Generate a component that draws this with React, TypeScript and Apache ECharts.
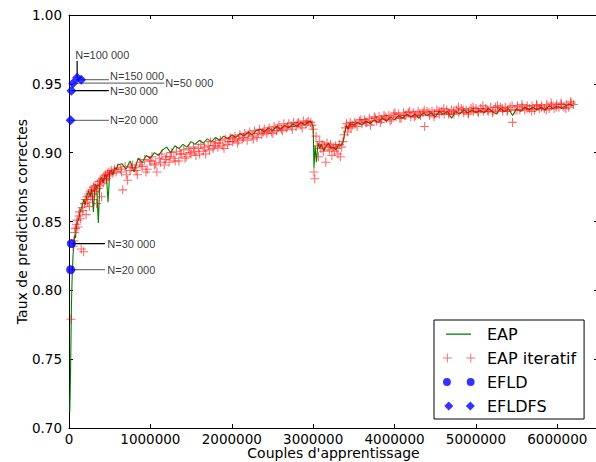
import React, { useEffect, useRef } from "react";
import * as echarts from "echarts";

// ---------- data (x in thousands of training couples, y = rate of correct predictions) ----------
const EAP: number[][] = [
  [10, 0.712], [20, 0.745], [30, 0.79], [40, 0.812], [50, 0.826], [60, 0.832], [70, 0.84], [80, 0.838],
  [90, 0.846], [100, 0.849], [120, 0.852], [140, 0.858], [160, 0.861], [180, 0.866], [200, 0.862],
  [220, 0.869], [240, 0.872], [260, 0.868], [280, 0.874], [300, 0.857], [320, 0.877], [340, 0.876],
  [360, 0.849], [380, 0.88], [400, 0.882], [420, 0.878], [440, 0.884], [460, 0.883], [480, 0.864],
  [500, 0.886], [520, 0.887], [540, 0.884], [560, 0.889], [580, 0.888], [600, 0.891],
  [650, 0.892], [700, 0.888], [750, 0.894], [800, 0.886], [850, 0.896], [900, 0.893], [950, 0.898],
  [1000, 0.896], [1050, 0.9], [1100, 0.898], [1150, 0.902], [1200, 0.904], [1250, 0.9], [1300, 0.905],
  [1350, 0.903], [1400, 0.906], [1450, 0.904], [1500, 0.908], [1550, 0.906], [1600, 0.909], [1650, 0.907],
  [1700, 0.91], [1750, 0.908], [1800, 0.911], [1850, 0.909], [1900, 0.912], [1950, 0.91], [2000, 0.913],
  [2050, 0.911], [2100, 0.914], [2150, 0.912], [2200, 0.915], [2250, 0.913], [2300, 0.916], [2350, 0.917],
  [2400, 0.915], [2450, 0.918], [2500, 0.916], [2550, 0.919], [2600, 0.917], [2650, 0.92], [2700, 0.918],
  [2750, 0.921], [2800, 0.919], [2850, 0.922], [2900, 0.92], [2950, 0.923], [2980, 0.922],
  [3000, 0.919], [3010, 0.889], [3025, 0.905], [3040, 0.893], [3060, 0.907], [3080, 0.903], [3100, 0.906],
  [3130, 0.901], [3160, 0.905], [3190, 0.907], [3220, 0.903], [3250, 0.904], [3280, 0.902], [3310, 0.906],
  [3340, 0.905], [3370, 0.908], [3390, 0.915], [3410, 0.92], [3430, 0.917], [3450, 0.921],
  [3500, 0.92], [3550, 0.922], [3600, 0.92], [3650, 0.923], [3700, 0.921], [3750, 0.924], [3800, 0.922],
  [3850, 0.925], [3900, 0.923], [3950, 0.926], [4000, 0.924], [4050, 0.927], [4100, 0.925], [4150, 0.928],
  [4200, 0.926], [4250, 0.928], [4300, 0.925], [4350, 0.929], [4400, 0.927], [4450, 0.929], [4500, 0.926],
  [4550, 0.93], [4600, 0.928], [4650, 0.93], [4700, 0.925], [4750, 0.93], [4800, 0.928], [4850, 0.931],
  [4900, 0.929], [4950, 0.931], [5000, 0.929], [5050, 0.931], [5100, 0.929], [5150, 0.932], [5200, 0.93],
  [5250, 0.928], [5300, 0.932], [5350, 0.93], [5400, 0.932], [5450, 0.927], [5500, 0.932], [5550, 0.93],
  [5600, 0.933], [5650, 0.931], [5700, 0.933], [5750, 0.931], [5800, 0.933], [5850, 0.931], [5900, 0.934],
  [5950, 0.932], [6000, 0.934], [6050, 0.932], [6100, 0.934], [6150, 0.935], [6200, 0.934],
];

const EAP_ITERATIF: number[][] = [
  [25, 0.779], [40, 0.815], [50, 0.832], [60, 0.836], [70, 0.842], [80, 0.845], [90, 0.848], [100, 0.851],
  [110, 0.846], [120, 0.854], [130, 0.857], [140, 0.852], [150, 0.83], [160, 0.86], [170, 0.858], [180, 0.828],
  [190, 0.863], [200, 0.866], [210, 0.855], [220, 0.868], [230, 0.864], [240, 0.87], [250, 0.861], [260, 0.872],
  [270, 0.868], [280, 0.873], [290, 0.866], [300, 0.875], [310, 0.87], [320, 0.876], [330, 0.872], [340, 0.863],
  [350, 0.877], [360, 0.874], [370, 0.879], [380, 0.876], [390, 0.88], [400, 0.868], [410, 0.881], [420, 0.878],
  [430, 0.883], [440, 0.88], [450, 0.884], [460, 0.881], [470, 0.885], [480, 0.883], [490, 0.886], [500, 0.884],
  [520, 0.887], [540, 0.885], [560, 0.888], [580, 0.886], [600, 0.889],
  [630, 0.888], [660, 0.873], [690, 0.89], [720, 0.88], [750, 0.887], [780, 0.891], [810, 0.889], [840, 0.884],
  [870, 0.893], [900, 0.89], [930, 0.895], [960, 0.888], [990, 0.894], [1020, 0.897], [1050, 0.891],
  [1080, 0.886], [1110, 0.896], [1140, 0.899], [1170, 0.891], [1200, 0.897], [1230, 0.893], [1260, 0.9],
  [1290, 0.896], [1320, 0.901], [1350, 0.894], [1380, 0.899], [1410, 0.902], [1440, 0.897], [1470, 0.903],
  [1500, 0.899], [1530, 0.904], [1560, 0.898], [1590, 0.903], [1620, 0.906], [1650, 0.901], [1680, 0.899],
  [1710, 0.905], [1740, 0.908], [1770, 0.903], [1800, 0.907], [1830, 0.904], [1860, 0.909], [1890, 0.905],
  [1920, 0.91], [1950, 0.906], [1980, 0.911], [2010, 0.908], [2040, 0.912], [2070, 0.907], [2100, 0.913],
  [2130, 0.91], [2160, 0.914], [2190, 0.909], [2220, 0.915], [2250, 0.912], [2280, 0.916], [2310, 0.911],
  [2340, 0.917], [2370, 0.913], [2400, 0.917], [2430, 0.914], [2460, 0.918], [2490, 0.915], [2520, 0.919],
  [2550, 0.916], [2580, 0.92], [2610, 0.917], [2640, 0.921], [2670, 0.918], [2700, 0.921], [2730, 0.919],
  [2760, 0.922], [2790, 0.919], [2820, 0.922], [2850, 0.92], [2880, 0.923], [2910, 0.921], [2940, 0.923],
  [2970, 0.922],
  [645, 0.886], [705, 0.884], [765, 0.889], [825, 0.887], [885, 0.891], [945, 0.886], [1005, 0.894],
  [1065, 0.892], [1125, 0.893], [1185, 0.895], [1245, 0.897], [1305, 0.894], [1365, 0.899], [1425, 0.896],
  [1485, 0.9], [1545, 0.901], [1605, 0.899], [1665, 0.904], [1725, 0.902], [1785, 0.905], [1845, 0.907],
  [1905, 0.903], [1965, 0.908], [2025, 0.91], [2085, 0.909], [2145, 0.911], [2205, 0.913], [2265, 0.91],
  [2325, 0.914], [2385, 0.915], [2445, 0.916], [2505, 0.914], [2565, 0.918], [2625, 0.916], [2685, 0.919],
  [2745, 0.917], [2805, 0.921], [2865, 0.918], [2925, 0.922], [2985, 0.92],
  [3000, 0.917], [3010, 0.886], [3020, 0.881], [3035, 0.912], [3050, 0.905], [3065, 0.897], [3080, 0.908],
  [3095, 0.903], [3110, 0.906], [3125, 0.901], [3140, 0.905], [3155, 0.893], [3170, 0.907], [3185, 0.904],
  [3200, 0.902], [3215, 0.906], [3230, 0.898], [3245, 0.904], [3260, 0.901], [3275, 0.905], [3290, 0.903],
  [3305, 0.899], [3320, 0.906], [3335, 0.897], [3350, 0.904], [3365, 0.908], [3380, 0.913], [3395, 0.918],
  [3410, 0.921], [3425, 0.915], [3440, 0.919], [3455, 0.922],
  [3480, 0.92], [3510, 0.922], [3540, 0.919], [3570, 0.923], [3600, 0.921], [3630, 0.924], [3660, 0.922],
  [3690, 0.925], [3720, 0.923], [3750, 0.926], [3780, 0.923], [3810, 0.926], [3840, 0.924], [3870, 0.927],
  [3900, 0.925], [3930, 0.927], [3960, 0.924], [3990, 0.928], [4020, 0.926], [4050, 0.928], [4080, 0.925],
  [4110, 0.929], [4140, 0.927], [4170, 0.929], [4200, 0.926], [4230, 0.929], [4260, 0.927], [4290, 0.93],
  [4320, 0.927], [4350, 0.929], [4370, 0.919], [4400, 0.93], [4430, 0.927], [4460, 0.93], [4490, 0.928],
  [4520, 0.931], [4550, 0.928], [4580, 0.93], [4610, 0.928], [4640, 0.931], [4670, 0.929], [4700, 0.931],
  [4730, 0.928], [4760, 0.931], [4790, 0.929], [4820, 0.932], [4850, 0.929], [4880, 0.931], [4910, 0.929],
  [4940, 0.932], [4970, 0.93], [5000, 0.932], [5030, 0.929], [5060, 0.932], [5090, 0.93], [5120, 0.932],
  [5150, 0.93], [5180, 0.933], [5210, 0.93], [5240, 0.933], [5270, 0.931], [5300, 0.933], [5330, 0.93],
  [5360, 0.933], [5390, 0.931], [5420, 0.933], [5450, 0.922], [5480, 0.931], [5510, 0.934], [5540, 0.931],
  [5570, 0.933], [5600, 0.931], [5630, 0.934], [5660, 0.932], [5690, 0.934], [5720, 0.931], [5750, 0.934],
  [5780, 0.932], [5810, 0.934], [5840, 0.932], [5870, 0.935], [5900, 0.932], [5930, 0.934], [5960, 0.932],
  [5990, 0.935], [6020, 0.933], [6050, 0.935], [6080, 0.933], [6110, 0.935], [6140, 0.933], [6170, 0.936],
  [6200, 0.935],
  [3465, 0.918], [3525, 0.921], [3585, 0.924], [3645, 0.922], [3705, 0.92], [3765, 0.925], [3825, 0.922],
  [3885, 0.926], [3945, 0.923], [4005, 0.929], [4065, 0.925], [4125, 0.927], [4185, 0.93], [4245, 0.926],
  [4305, 0.928], [4365, 0.931], [4425, 0.929], [4485, 0.926], [4545, 0.93], [4605, 0.932], [4665, 0.928],
  [4725, 0.93], [4785, 0.933], [4845, 0.931], [4905, 0.928], [4965, 0.933], [5025, 0.93], [5085, 0.934],
  [5145, 0.931], [5205, 0.929], [5265, 0.934], [5325, 0.932], [5385, 0.93], [5445, 0.934], [5505, 0.931],
  [5565, 0.935], [5625, 0.932], [5685, 0.93], [5745, 0.935], [5805, 0.933], [5865, 0.931], [5925, 0.936],
  [5985, 0.933], [6045, 0.936], [6105, 0.932], [6165, 0.937],
];

const EFLD_N = [20000, 30000];
const EFLD_Y = [0.815, 0.834];
const EFLDFS_N = [20000, 30000, 50000, 100000, 150000];
const EFLDFS_Y = [0.9235, 0.945, 0.9505, 0.9545, 0.953];

const X_TICKS = [0, 1000000, 2000000, 3000000, 4000000, 5000000, 6000000];
const Y_TICKS = [0.7, 0.75, 0.8, 0.85, 0.9, 0.95, 1.0];

// ---------- annotation layout (data coords of line ends and label anchors) ----------
const GREY = "#777777";
const BLACK = "#000000";
const ANNOTATIONS = [
  { text: "N=20 000", from: [EFLD_N[0], EFLD_Y[0]], to: [443000, EFLD_Y[0]], label: [465000, EFLD_Y[0]], color: GREY },
  { text: "N=30 000", from: [EFLD_N[1], EFLD_Y[1]], to: [443000, EFLD_Y[1]], label: [465000, EFLD_Y[1]], color: BLACK },
  { text: "N=20 000", from: [EFLDFS_N[0], EFLDFS_Y[0]], to: [490000, EFLDFS_Y[0]], label: [497000, EFLDFS_Y[0]], color: GREY },
  { text: "N=30 000", from: [EFLDFS_N[1], EFLDFS_Y[1]], to: [490000, EFLDFS_Y[1]], label: [497000, EFLDFS_Y[1]], color: BLACK },
  { text: "N=50 000", from: [EFLDFS_N[2], EFLDFS_Y[2]], to: [1170000, EFLDFS_Y[2]], label: [1177000, EFLDFS_Y[2]], color: GREY },
  { text: "N=100 000", from: [EFLDFS_N[3], EFLDFS_Y[3]], to: [EFLDFS_N[3], 0.9665], label: [70000, 0.971], color: BLACK },
  { text: "N=150 000", from: [EFLDFS_N[4], EFLDFS_Y[4]], to: [490000, EFLDFS_Y[4]], label: [497000, 0.9555], color: GREY },
];

// legend icons: drawn inside a 39 x 9 box (degenerate end points fix the box)
const BOX = "M0,0L0,0 M39,9L39,9 ";
const LINE_ICON = "path://" + BOX + "M3,4L28,4L28,5.3L3,5.3Z";
const PLUS2 = "path://" + BOX + "M3,0h1v4h4v1h-4v4h-1v-4h-4v-1h4Z M27,0h1v4h4v1h-4v4h-1v-4h-4v-1h4Z";
const CIRC2 =
  "path://" + BOX + "M-0.5,4.5a4,4 0 1,0 8,0a4,4 0 1,0 -8,0Z M23.5,4.5a4,4 0 1,0 8,0a4,4 0 1,0 -8,0Z";
const DIAM2 = "path://" + BOX + "M3.5,-0.5L8.5,4.5L3.5,9.5L-1.5,4.5Z M27.5,-0.5L32.5,4.5L27.5,9.5L22.5,4.5Z";
const PLUS1 = "path://M4,0h1.1v4h4v1.1h-4v4h-1.1v-4h-4v-1.1h4Z";

export default function App() {
  const ref = useRef<HTMLDivElement>(null);

  useEffect(() => {
    if (!ref.current) return;
    const chart = echarts.init(ref.current, undefined, { renderer: "svg" });
    const font = "DejaVu Sans";

    const tickStyle = { show: true, inside: true, length: 4, lineStyle: { color: "#000", width: 1 } };
    const lineStyle = { show: true, onZero: false, lineStyle: { color: "#000", width: 1 } };

    const xBase = {
      type: "value" as const,
      min: 0,
      max: 6500000,
      interval: 1000000,
      splitLine: { show: false },
      axisLine: lineStyle,
      axisTick: tickStyle,
    };
    const yBase = {
      type: "value" as const,
      min: 0.7,
      max: 1.0,
      interval: 0.05,
      splitLine: { show: false },
      axisLine: lineStyle,
      axisTick: tickStyle,
    };

    const annotLines = ANNOTATIONS.map((a, i) => ({
      name: "annot" + i,
      type: "line",
      data: [a.from, a.to],
      symbol: "none",
      silent: true,
      z: 1,
      lineStyle: { color: a.color, width: 1.2 },
    }));

    const option: any = {
      animation: false,
      backgroundColor: "#ffffff",
      textStyle: { fontFamily: font },
      grid: { left: 69, top: 15, right: -2, bottom: 34, containLabel: false, outerBoundsMode: "none" },
      xAxis: [
        {
          ...xBase,
          position: "bottom",
          name: "Couples d'apprentissage",
          nameLocation: "middle",
          nameGap: 18,
          nameMoveOverlap: false,
          nameTextStyle: { fontFamily: font, fontSize: 14, lineHeight: 14, color: "#000" },
          axisLabel: {
            show: true,
            margin: 4,
            fontFamily: font,
            fontSize: 13.5,
            lineHeight: 13,
            color: "#000",
            formatter: (v: number) => (X_TICKS.indexOf(v) >= 0 ? String(v) : ""),
          },
        },
        { ...xBase, position: "top", axisLabel: { show: false } },
      ],
      yAxis: [
        {
          ...yBase,
          position: "left",
          name: "Taux de predictions correctes",
          nameLocation: "middle",
          nameGap: 40,
          nameMoveOverlap: false,
          nameTextStyle: { fontFamily: font, fontSize: 14, color: "#000" },
          axisLabel: {
            show: true,
            margin: 7,
            fontFamily: font,
            fontSize: 13.5,
            color: "#000",
            formatter: (v: number) => {
              const t = Y_TICKS.find((k) => Math.abs(k - v) < 1e-9);
              return t === undefined ? "" : t.toFixed(2);
            },
          },
        },
        { ...yBase, position: "right", axisLabel: { show: false } },
      ],
      legend: {
        show: true,
        orient: "vertical",
        left: 434,
        top: 320,
        padding: [6, 8, 5, 9],
        itemGap: 8,
        itemWidth: 39,
        itemHeight: 9,
        borderColor: "#000",
        borderWidth: 1,
        backgroundColor: "#fff",
        textStyle: { fontFamily: font, fontSize: 16, color: "#000" },
        data: [
          { name: "EAP", icon: LINE_ICON, itemStyle: { color: "#008000", borderWidth: 0 } },
          { name: "EAP iteratif", icon: PLUS2, itemStyle: { borderWidth: 0 } },
          { name: "EFLD", icon: CIRC2, itemStyle: { borderWidth: 0 } },
          { name: "EFLDFS", icon: DIAM2, itemStyle: { borderWidth: 0 } },
        ],
      },
      series: [
        ...annotLines,
        {
          name: "EAP",
          type: "line",
          data: EAP.map(([k, y]) => [k * 1000, y]),
          symbol: "none",
          z: 2,
          lineStyle: { color: "#008000", width: 1.1 },
          itemStyle: { color: "#008000" },
        },
        {
          name: "EAP iteratif",
          type: "scatter",
          data: EAP_ITERATIF.map(([k, y]) => [k * 1000, y]),
          symbol: PLUS1,
          symbolSize: 9,
          z: 3,
          itemStyle: { color: "rgba(255,0,0,0.72)" },
        },
        {
          name: "EFLD",
          type: "scatter",
          data: EFLD_N.map((n, i) => [n, EFLD_Y[i]]),
          symbol: "circle",
          symbolSize: 9,
          z: 4,
          itemStyle: { color: "#0000ff" },
        },
        {
          name: "EFLDFS",
          type: "scatter",
          data: EFLDFS_N.map((n, i) => [n, EFLDFS_Y[i]]),
          symbol: "diamond",
          symbolSize: 10,
          z: 4,
          itemStyle: { color: "#0000ff" },
        },
        {
          name: "annotLabels",
          type: "scatter",
          silent: true,
          symbolSize: 1,
          z: 5,
          itemStyle: { color: "rgba(0,0,0,0)" },
          label: {
            show: true,
            position: "right",
            distance: 0,
            fontFamily: "Liberation Sans",
            fontSize: 11,
            color: "#000",
            formatter: (p: any) => p.name,
          },
          data: ANNOTATIONS.map((a) => ({ name: a.text, value: a.label })),
        },
      ],
    };

    chart.setOption(option);
    return () => chart.dispose();
  }, []);

  return (
    <div
      ref={ref}
      style={{ position: "absolute", left: 0, top: 0, width: 596, height: 462, background: "#fff" }}
    />
  );
}
